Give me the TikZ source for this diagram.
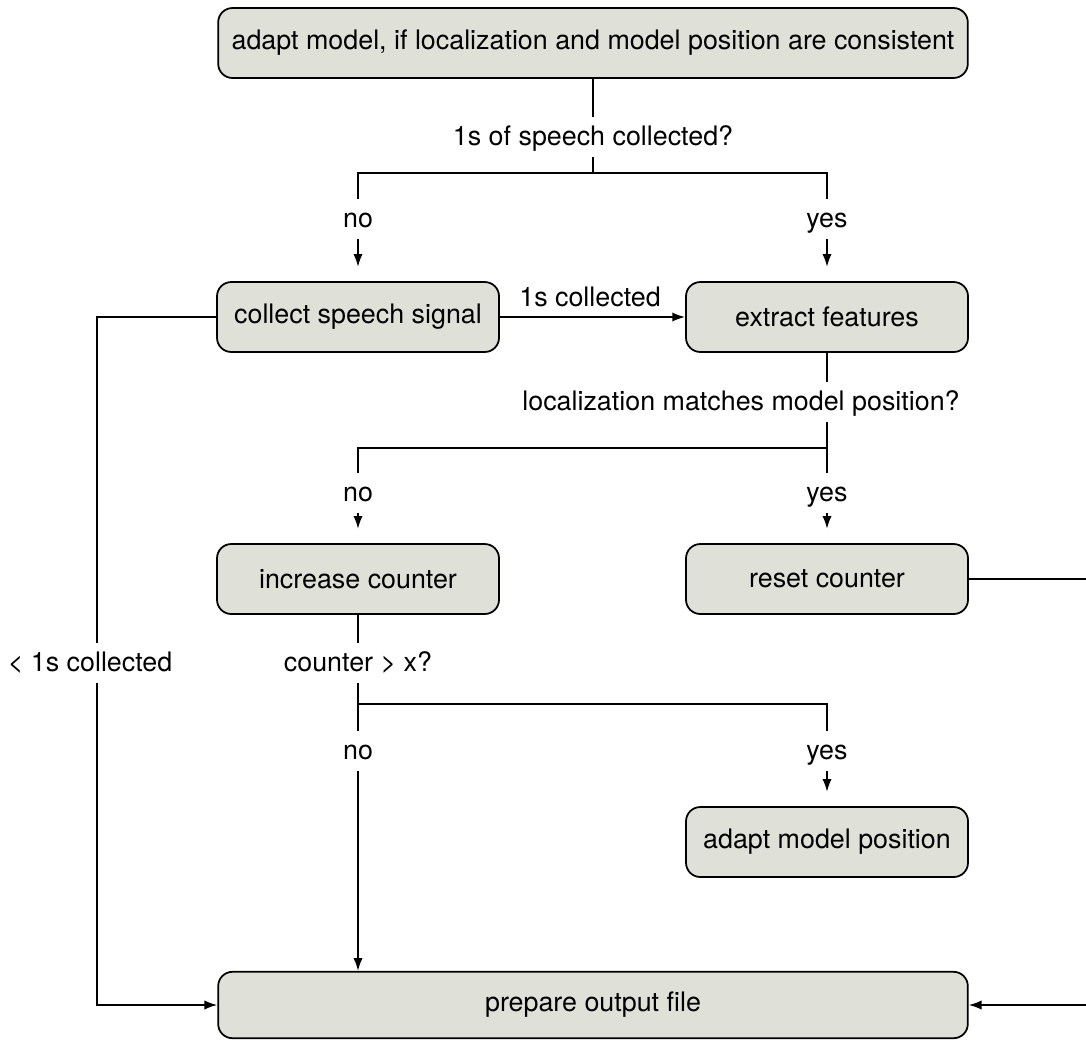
\documentclass[tikz,border=0pt]{standalone}
\usepackage{fontspec}
\setmainfont{TeX Gyre Heros}
\usetikzlibrary{arrows.meta}
\definecolor{boxfill}{RGB}{223,225,216}

\begin{document}
\begin{tikzpicture}[x=0.014cm,y=-0.014cm,>={Latex[length=1.8mm,width=1.3mm]},
    every node/.style={font=\fontsize{10.7}{13}\selectfont},
    box/.style={draw,fill=boxfill,rounded corners=0.2cm,line width=0.7pt,
                minimum width=3.95cm,minimum height=0.98cm},
    widebox/.style={box,minimum width=10.5cm},
    lbl/.style={fill=white,text height=1.5ex,text depth=.25ex},
    conn/.style={line width=0.7pt},
    gap/.style={shorten >=0.2cm}]
    \useasboundingbox (0,0) rectangle (1086,1040);
    % boxes
    \node [widebox] (adapt)    at (593,43)   {adapt model, if localization and model position are consistent};
    \node [box]     (collect)  at (358,317)  {collect speech signal};
    \node [box]     (extract)  at (827,317)  {extract features};
    \node [box]     (increase) at (358,579)  {increase counter};
    \node [box]     (reset)    at (827,579)  {reset counter};
    \node [box]     (adaptpos) at (827,842)  {adapt model position};
    \node [widebox, minimum height=0.93cm] (prepare) at (593,1005) {prepare output file};
    % branch points
    \coordinate (b1)  at (593,173);
    \coordinate (b2)  at (827,448);
    \coordinate (b3)  at (358,704);
    \coordinate (lft) at (97,660);
    \coordinate (rgt) at (1090,800);
    % connectors
    \draw [conn] (adapt) -- (b1);
    \draw [conn, ->, gap] (b1) -| (collect);
    \draw [conn, ->, gap] (b1) -| (extract);
    \draw [conn, ->] (collect) -- (extract);
    \draw [conn] (extract) -- (b2);
    \draw [conn, ->, gap] (b2) -| (increase);
    \draw [conn, ->, gap] (b2) -- (reset);
    \draw [conn] (increase) -- (b3);
    \draw [conn, ->, gap] (b3) -| (adaptpos);
    \draw [conn, ->] (b3) -- (prepare.north -| b3);
    \draw [conn, ->] (collect.west) -| (lft) |- (prepare.west);
    \draw [conn, ->] (reset.east) -| (rgt) |- (prepare.east);
    % labels
    \node [lbl] (q1)   at (593,137) {1s of speech collected?};
    \node [lbl] (no1)  at (358,219) {no};
    \node [lbl] (yes1) at (827,219) {yes};
    \node       (got)  at (590,297) {1s collected};
    \node [lbl] (q2)   at (741,402) {localization matches model position?};
    \node [lbl] (no2)  at (358,493) {no};
    \node [lbl] (yes2) at (827,493) {yes};
    \node [lbl] (q3)   at (358,663) {counter > x?};
    \node [lbl] (no3)  at (358,751) {no};
    \node [lbl] (yes3) at (827,751) {yes};
    \node [lbl] (less) at (90,663)  {< 1s collected};
\end{tikzpicture}
\end{document}
